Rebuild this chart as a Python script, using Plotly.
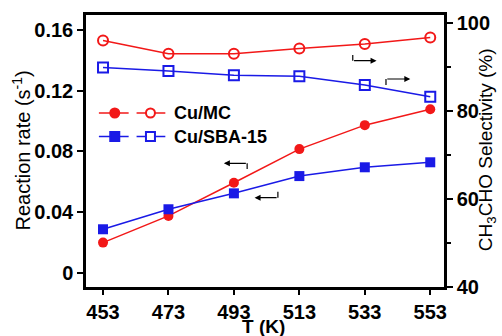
import plotly.graph_objects as go

# ---- data ----
temps = [453, 473, 493, 513, 533, 553]
rate_mc = [0.0198, 0.0374, 0.0593, 0.0815, 0.0973, 0.1078]
rate_sba = [0.0286, 0.0418, 0.0523, 0.0637, 0.0695, 0.0728]
sel_mc = [96.0, 93.0, 93.0, 94.2, 95.2, 96.7]
sel_sba = [89.9, 89.1, 88.1, 87.9, 85.9, 83.2]
y_ticks = [0, 0.04, 0.08, 0.12, 0.16]
y_ticktext = ["0", "0.04", "0.08", "0.12", "0.16"]
y2_ticks = [40, 60, 80, 100]
names = ["Cu/MC", "Cu/SBA-15"]

RED = "#f21818"
BLUE = "#1a1ae6"
W, H = 502, 336
ML, MR, MT, MB = 86, 55, 15, 49
PW, PH = W - ML - MR, H - MT - MB
FONT = "Liberation Sans, Arial, sans-serif"


def px(x):
    return (x - ML) / PW


def py(y):
    return (H - MB - y) / PH


fig = go.Figure()
fig.add_trace(go.Scatter(x=temps, y=rate_mc, mode="lines+markers",
                         line=dict(color=RED, width=1.5),
                         marker=dict(symbol="circle", size=10, color=RED)))
fig.add_trace(go.Scatter(x=temps, y=rate_sba, mode="lines+markers",
                         line=dict(color=BLUE, width=1.5),
                         marker=dict(symbol="square", size=10, color=BLUE)))
fig.add_trace(go.Scatter(x=temps, y=sel_mc, mode="lines+markers", yaxis="y2",
                         line=dict(color=RED, width=1.5),
                         marker=dict(symbol="circle-open", size=10, color=RED,
                                     line=dict(width=2))))
fig.add_trace(go.Scatter(x=temps, y=sel_sba, mode="lines+markers", yaxis="y2",
                         line=dict(color=BLUE, width=1.5),
                         marker=dict(symbol="square-open", size=10, color=BLUE,
                                     line=dict(width=2))))

shapes = []
annotations = []

# legend (manual)
rows = [(113, RED, "circle", names[0]), (136.5, BLUE, "square", names[1])]
for yy, col, sym, name in rows:
    for (x0, x1, xm, filled) in [(99, 129, 115, True), (137, 166, 151, False)]:
        shapes.append(dict(type="line", xref="paper", yref="paper",
                           x0=px(x0), x1=px(x1), y0=py(yy), y1=py(yy),
                           line=dict(color=col, width=1.5)))
        stype = "circle" if sym == "circle" else "rect"
        shapes.append(dict(type=stype, xref="paper", yref="paper",
                           xsizemode="pixel", ysizemode="pixel",
                           xanchor=px(xm), yanchor=py(yy),
                           x0=-4.5, x1=4.5, y0=-4.5, y1=4.5,
                           fillcolor=col if filled else "white",
                           line=dict(color=col, width=2)))
    annotations.append(dict(xref="paper", yref="paper", x=px(173), y=py(yy),
                            xanchor="left", yanchor="middle", showarrow=False,
                            text=f"<b>{name}</b>",
                            font=dict(family=FONT, size=18, color="black")))

# axis indicator arrows: (vertical segment), horizontal arrow
arrows = [
    ((355, 55, 355, 60.7), (355, 60.7, 379, 60.7)),
    ((388.5, 85, 388.5, 79), (388.5, 79, 413, 79)),
    ((248.5, 169, 248.5, 163.3), (248.5, 163.3, 225, 163.3)),
    ((279.5, 191.7, 279.5, 197.7), (279.5, 197.7, 256, 197.7)),
]
for (vx0, vy0, vx1, vy1), (hx0, hy0, hx1, hy1) in arrows:
    shapes.append(dict(type="line", xref="paper", yref="paper",
                       x0=px(vx0), y0=py(vy0), x1=px(vx1), y1=py(vy1),
                       line=dict(color="black", width=1.2)))
    annotations.append(dict(xref="paper", yref="paper", x=px(hx1), y=py(hy1),
                            ax=hx0 - hx1, ay=hy0 - hy1, axref="pixel", ayref="pixel",
                            text="", showarrow=True, arrowhead=2, arrowsize=1,
                            arrowwidth=1.2, arrowcolor="black"))

# axis titles
annotations.append(dict(xref="paper", yref="paper", x=px(20), y=py(151),
                        textangle=-90, showarrow=False, xanchor="center", yanchor="middle",
                        text="Reaction rate (s<sup>-1</sup>)",
                        font=dict(family=FONT, size=20, color="black")))
annotations.append(dict(xref="paper", yref="paper", x=px(490.5), y=py(150),
                        textangle=-90, showarrow=False, xanchor="center", yanchor="middle",
                        text="CH<sub>3</sub>CHO Selectivity (%)",
                        font=dict(family=FONT, size=19, color="black")))
annotations.append(dict(xref="paper", yref="paper", x=px(265), y=py(326),
                        showarrow=False, xanchor="center", yanchor="middle",
                        text="<b>T (K)</b>",
                        font=dict(family=FONT, size=19, color="black")))

tickfont = dict(family=FONT, size=20, color="black")
fig.update_layout(
    width=W, height=H,
    margin=dict(l=ML, r=MR, t=MT, b=MB),
    plot_bgcolor="white", paper_bgcolor="white",
    showlegend=False,
    shapes=shapes, annotations=annotations,
    xaxis=dict(range=[447.8, 557.2], tickvals=temps,
               ticktext=[f"<b>{t}</b>" for t in temps],
               showline=True, linecolor="black", linewidth=2.5, mirror=True,
               ticks="outside", ticklen=5, tickwidth=2, tickcolor="black",
               showgrid=False, zeroline=False, tickfont=tickfont),
    yaxis=dict(range=[-0.0095, 0.170], tickvals=y_ticks,
               ticktext=[f"<b>{t}</b>" for t in y_ticktext],
               showline=True, linecolor="black", linewidth=2.5,
               ticks="outside", ticklen=6, tickwidth=2, tickcolor="black",
               showgrid=False, zeroline=False, tickfont=tickfont),
    yaxis2=dict(range=[40, 101.8], tickvals=y2_ticks,
                ticktext=[f"<b>{t}</b>" for t in y2_ticks],
                overlaying="y", side="right",
                showline=True, linecolor="black", linewidth=2.5,
                ticks="outside", ticklen=6, tickwidth=2, tickcolor="black",
                minor=dict(tickvals=[50, 70, 90], ticks="outside", ticklen=4,
                           tickwidth=2, tickcolor="black"),
                showgrid=False, zeroline=False, tickfont=tickfont),
)

fig.write_html("out.html")
